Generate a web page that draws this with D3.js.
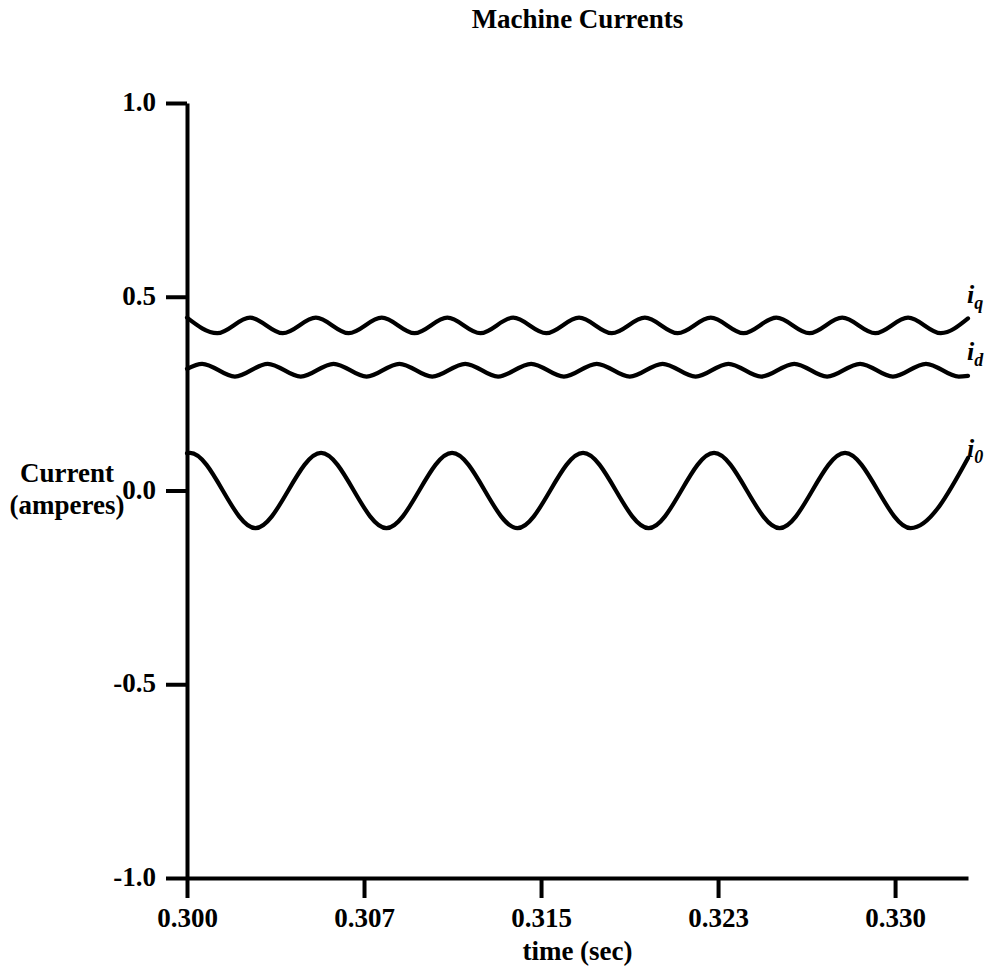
<!DOCTYPE html>
<html>
<head>
<meta charset="utf-8">
<script src="https://cdn.jsdelivr.net/npm/d3@7"></script>
<style>
  html, body { margin: 0; padding: 0; background: #fff; }
  svg { display: block; }
  text { font-family: "Liberation Serif", "DejaVu Serif", serif; font-weight: bold; fill: #000; }
</style>
</head>
<body>
<svg id="chart" width="990" height="974"></svg>
<script>
// ---- data ----
const title = "Machine Currents";
const xLabel = "time (sec)";
const yLabelLines = ["Current", "(amperes)"];

const timeTicks = [0.3, 0.3075, 0.315, 0.3225, 0.33];
const timeTickLabels = ["0.300", "0.307", "0.315", "0.323", "0.330"];
const currentTicks = [-1.0, -0.5, 0.0, 0.5, 1.0];
const currentTickLabels = ["-1.0", "-0.5", "0.0", "0.5", "1.0"];

// i_q : extrema
const iqTime = [0.30000, 0.30128, 0.30267, 0.30406, 0.30546, 0.30685, 0.30825, 0.30964, 0.31103,
  0.31243, 0.31382, 0.31522, 0.31661, 0.31800, 0.31940, 0.32079, 0.32219, 0.32358, 0.32497,
  0.32637, 0.32776, 0.32916, 0.33055, 0.33194, 0.33309];
const iqValue = [0.446, 0.406, 0.446, 0.406, 0.446, 0.406, 0.446, 0.406, 0.446,
  0.406, 0.446, 0.406, 0.446, 0.406, 0.446, 0.406, 0.446, 0.406, 0.446,
  0.406, 0.446, 0.406, 0.446, 0.406, 0.444];

// i_d
const idTime = [0.30000, 0.30064, 0.30203, 0.30342, 0.30482, 0.30621, 0.30761, 0.30900, 0.31039,
  0.31179, 0.31318, 0.31458, 0.31597, 0.31736, 0.31876, 0.32015, 0.32155, 0.32294, 0.32433,
  0.32573, 0.32712, 0.32852, 0.32991, 0.33131, 0.33270, 0.33309];
const idValue = [0.314, 0.327, 0.294, 0.327, 0.294, 0.327, 0.294, 0.327, 0.294,
  0.327, 0.294, 0.327, 0.294, 0.327, 0.294, 0.327, 0.294, 0.327, 0.294,
  0.327, 0.294, 0.327, 0.294, 0.327, 0.294, 0.296];

// i_0
const i0Time = [0.30000, 0.30013, 0.30290, 0.30568, 0.30845, 0.31123, 0.31400, 0.31678,
  0.31956, 0.32233, 0.32511, 0.32788, 0.33066, 0.33309];
const i0Value = [0.096, 0.097, -0.097, 0.097, -0.097, 0.097, -0.097, 0.097,
  -0.097, 0.097, -0.097, 0.097, -0.097, 0.084];

const seriesNames = ["q", "d", "0"];

// ---- drawing ----
const svg = d3.select("#chart");
const x = d3.scaleLinear().domain([0.3, 0.33309]).range([187, 968]);
const y = d3.scaleLinear().domain([-1, 1]).range([878, 103]);

const axisStroke = 4;

// x axis
const gx = svg.append("g").attr("transform", `translate(0,${y(-1)})`)
  .call(d3.axisBottom(x).tickValues(timeTicks).tickSize(20).tickSizeOuter(0)
    .tickFormat((d, i) => timeTickLabels[i]));
// y axis
const gy = svg.append("g").attr("transform", `translate(${x(0.3)},0)`)
  .call(d3.axisLeft(y).tickValues(currentTicks).tickSize(21).tickSizeOuter(0)
    .tickFormat((d, i) => currentTickLabels[i]));

[gx, gy].forEach(g => {
  g.select(".domain").attr("stroke", "#000").attr("stroke-width", axisStroke);
  g.selectAll(".tick line").attr("stroke", "#000").attr("stroke-width", axisStroke);
  g.selectAll("text").attr("fill", "#000")
    .style("font-family", '"Liberation Serif", serif').style("font-weight", "bold")
    .style("font-size", "27px");
});
gx.selectAll(".tick text").attr("dy", null).attr("y", 49);
gy.selectAll(".tick text").attr("x", -31).attr("dy", "0.28em");

// lines
const line = d3.line().x(d => x(d[0])).y(d => y(d[1])).curve(d3.curveMonotoneX);
const series = [
  d3.zip(iqTime, iqValue),
  d3.zip(idTime, idValue),
  d3.zip(i0Time, i0Value)
];
svg.append("g").selectAll("path").data(series).join("path")
  .attr("d", line)
  .attr("fill", "none")
  .attr("stroke", "#000")
  .attr("stroke-width", 4.2)
  .attr("stroke-linejoin", "round")
  .attr("stroke-linecap", "round");

// series labels
const labelPos = [[967, 303], [967, 360], [967, 457]];
seriesNames.forEach((n, i) => {
  const t = svg.append("text").attr("x", labelPos[i][0]).attr("y", labelPos[i][1])
    .style("font-style", "italic").style("font-size", "26px");
  t.append("tspan").text("i");
  t.append("tspan").attr("dy", 6).style("font-size", "18px").text(n);
});

// title
svg.append("text").attr("x", (x.range()[0] + x.range()[1]) / 2).attr("y", 28)
  .attr("text-anchor", "middle").style("font-size", "27px").text(title);

// x label
svg.append("text").attr("x", (x.range()[0] + x.range()[1]) / 2).attr("y", 960)
  .attr("text-anchor", "middle").style("font-size", "27px").text(xLabel);

// y label
svg.append("text").attr("x", 67).attr("y", 482).attr("text-anchor", "middle")
  .style("font-size", "27px").text(yLabelLines[0]);
svg.append("text").attr("x", 67).attr("y", 514).attr("text-anchor", "middle")
  .style("font-size", "27px").text(yLabelLines[1]);
</script>
</body>
</html>
